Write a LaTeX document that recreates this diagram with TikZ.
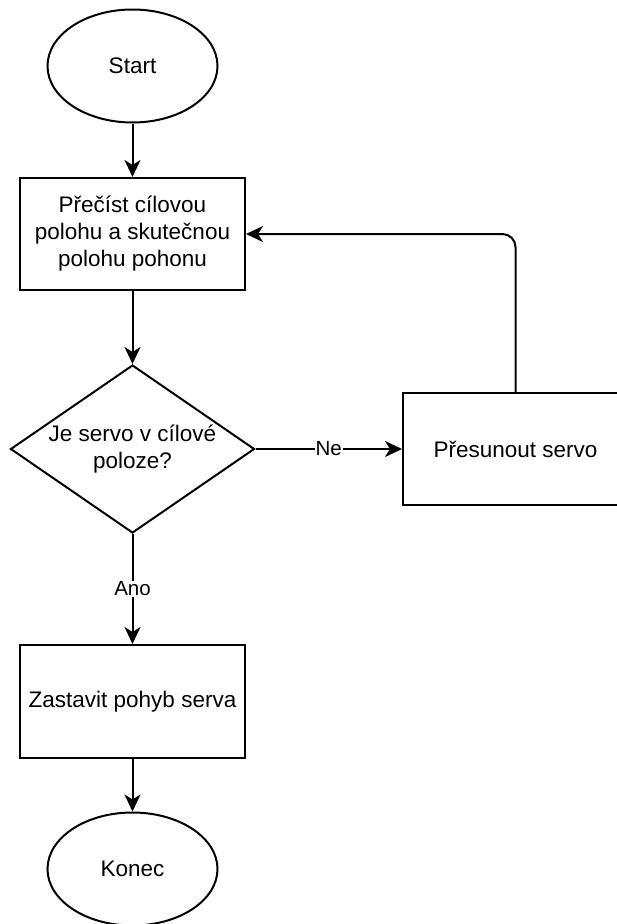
\documentclass[tikz,border=0pt]{standalone}
\usepackage{fontspec}
\setmainfont{Liberation Sans}
\usetikzlibrary{shapes.geometric,arrows.meta}

\tikzset{
	base/.style = {draw, line width=2pt, inner sep=0pt, align=center,
		font=\fontsize{22.5}{27}\selectfont},
	terminal/.style = {base, ellipse, minimum width=170pt, minimum height=113pt},
	process/.style = {base, rectangle, minimum width=225pt, minimum height=112pt},
	decision/.style = {base, diamond, aspect=1.45, minimum width=244pt, minimum height=168pt},
	arr/.style = {line width=2pt, -{Stealth[length=17pt, width=16pt, inset=5pt]}},
	lbl/.style = {fill=white, inner sep=1pt, font=\fontsize{20.5}{24}\selectfont}
}

\begin{document}
\begin{tikzpicture}[x=1pt, y=-1pt]
		\useasboundingbox (0,0) rectangle (617,924);
		
		\node[terminal] (start) at (132.5,66) {Start};
		\node[process] (read) at (132.5,234) {Přečíst cílovou\\ polohu a skutečnou\\ polohu pohonu};
		\node[decision] (check) at (132.5,449) {Je servo v cílové\\ poloze?};
		\node[process] (move) at (515.5,449) {Přesunout servo};
		\node[process, minimum height=113pt] (stop) at (132.5,701.5) {Zastavit pohyb serva};
		\node[terminal] (end) at (132.5,869) {Konec};
		
		\draw[arr] (start) -- (read);
		\draw[arr] (read) -- (check);
		\draw[arr] (check) -- node[lbl] {Ne} (move);
		\draw[arr] (check) -- node[lbl] {Ano} (stop);
		\draw[arr] (stop) -- (end);
		
		% back to reading the positions
		\draw[arr, rounded corners=13pt] (move.north) |- (read.east);
		\end{tikzpicture}
\end{document}
